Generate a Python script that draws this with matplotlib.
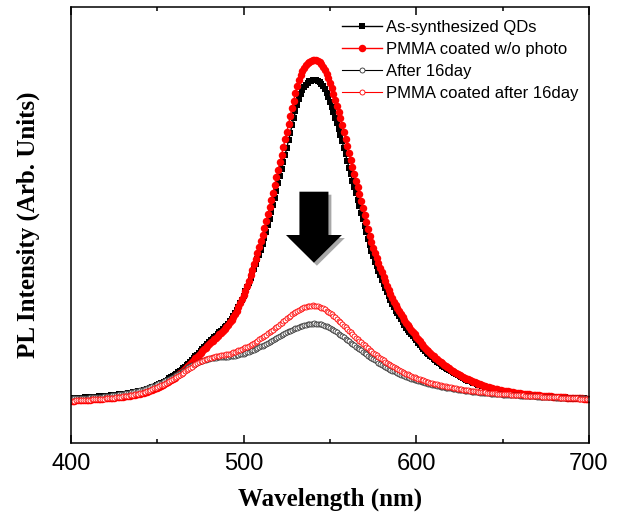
import numpy as np
import matplotlib
matplotlib.use("Agg")
import matplotlib.pyplot as plt
from matplotlib.patches import FancyArrow

plt.rcParams["font.family"] = ["Liberation Sans", "DejaVu Sans"]

# Emission wavelength grid (nm), 1 nm steps
wavelength = np.arange(400, 701)

# PL spectra (arbitrary units)
as_synthesized = [
    44.8, 44.9, 45.0, 45.1, 45.2, 45.3, 45.4, 45.5, 45.6, 45.8,
    45.9, 46.0, 46.1, 46.2, 46.4, 46.5, 46.6, 46.8, 46.9, 47.1,
    47.2, 47.4, 47.5, 47.7, 47.8, 48.0, 48.2, 48.4, 48.6, 48.8,
    49.0, 49.2, 49.5, 49.7, 50.0, 50.3, 50.6, 51.0, 51.3, 51.6,
    52.0, 52.5, 52.9, 53.4, 53.9, 54.5, 55.1, 55.7, 56.4, 57.2,
    58.0, 58.8, 59.6, 60.5, 61.5, 62.5, 63.5, 64.6, 65.7, 66.8,
    68.0, 69.3, 70.6, 72.0, 73.4, 74.8, 76.3, 77.9, 79.5, 81.2,
    83.0, 84.8, 86.6, 88.4, 90.2, 92.0, 93.8, 95.6, 97.4, 99.2,
    101.0, 102.6, 104.2, 105.8, 107.4, 109.0, 110.6, 112.2, 113.9, 115.6,
    117.4, 119.4, 121.6, 124.0, 126.7, 129.6, 132.7, 136.0, 139.6, 143.4,
    147.4, 151.6, 156.0, 160.5, 165.0, 169.6, 174.3, 179.1, 184.0, 188.4,
    192.9, 198.8, 204.9, 211.2, 217.7, 224.4, 231.3, 238.3, 245.4, 252.5,
    259.7, 266.8, 274.0, 281.1, 288.3, 295.4, 302.8, 310.3, 317.8, 324.9,
    331.9, 338.5, 344.2, 348.9, 352.6, 355.9, 358.3, 360.2, 361.6, 362.5,
    363.0, 363.2, 363.0, 362.2, 360.9, 359.0, 356.6, 353.6, 350.0, 345.9,
    341.4, 336.5, 331.2, 325.5, 319.7, 314.1, 308.4, 301.8, 295.2, 288.7,
    282.1, 275.5, 268.9, 262.3, 255.7, 249.6, 243.5, 236.9, 230.3, 223.7,
    217.1, 210.6, 204.0, 197.9, 191.7, 186.6, 181.4, 176.7, 172.0, 167.7,
    163.5, 159.3, 155.0, 150.8, 146.6, 142.8, 139.0, 135.7, 132.5, 129.6,
    126.8, 124.0, 121.2, 118.3, 115.5, 113.4, 111.4, 109.3, 107.1, 104.9,
    102.6, 100.4, 98.2, 96.1, 94.2, 92.3, 90.5, 88.8, 87.2, 85.7,
    84.2, 82.8, 81.4, 80.0, 78.7, 77.5, 76.3, 75.1, 73.9, 72.8,
    71.7, 70.6, 69.6, 68.6, 67.6, 66.7, 65.7, 64.9, 64.0, 63.2,
    62.4, 61.7, 60.9, 60.3, 59.6, 59.0, 58.3, 57.7, 57.2, 56.6,
    56.0, 55.6, 55.1, 54.6, 54.2, 53.8, 53.4, 53.0, 52.7, 52.3,
    52.0, 51.7, 51.4, 51.2, 50.9, 50.6, 50.3, 50.0, 49.8, 49.6,
    49.4, 49.2, 49.0, 48.8, 48.6, 48.4, 48.2, 48.0, 47.9, 47.7,
    47.6, 47.4, 47.3, 47.1, 47.0, 46.9, 46.7, 46.6, 46.5, 46.4,
    46.3, 46.2, 46.0, 45.9, 45.8, 45.7, 45.6, 45.5, 45.4, 45.3,
    45.2, 45.1, 45.0, 44.9, 44.8, 44.8, 44.7, 44.6, 44.5, 44.5, 44.4,
]

pmma_coated = [
    42.3, 42.4, 42.5, 42.6, 42.7, 42.8, 42.9, 43.0, 43.1, 43.3,
    43.4, 43.5, 43.6, 43.7, 43.9, 44.0, 44.1, 44.3, 44.4, 44.6,
    44.7, 44.9, 45.0, 45.2, 45.3, 45.5, 45.7, 45.9, 46.1, 46.3,
    46.5, 46.7, 47.0, 47.2, 47.5, 47.8, 48.1, 48.5, 48.8, 49.1,
    49.5, 50.0, 50.4, 50.9, 51.4, 52.0, 52.6, 53.2, 53.9, 54.7,
    55.5, 56.3, 57.1, 58.0, 59.0, 60.0, 61.0, 62.1, 63.2, 64.3,
    65.5, 66.8, 68.2, 69.6, 71.0, 72.5, 74.0, 75.6, 77.3, 79.1,
    81.0, 82.8, 84.6, 86.4, 88.2, 90.0, 91.8, 93.6, 95.4, 97.2,
    99.0, 100.7, 102.3, 103.9, 105.5, 107.1, 108.7, 110.4, 112.1, 114.0,
    116.0, 118.3, 120.8, 123.5, 126.3, 129.3, 132.5, 136.0, 139.8, 143.8,
    148.0, 152.5, 157.3, 162.5, 168.0, 173.5, 179.0, 184.5, 190.2, 196.1,
    202.2, 208.5, 215.0, 221.7, 228.6, 235.7, 243.0, 250.5, 258.0, 265.6,
    273.2, 280.8, 288.4, 296.0, 303.6, 311.2, 319.0, 327.0, 335.0, 342.5,
    350.0, 357.0, 363.0, 368.0, 372.0, 375.5, 378.0, 380.0, 381.5, 382.5,
    383.0, 383.2, 383.0, 382.2, 380.8, 378.8, 376.2, 373.0, 369.2, 364.8,
    360.0, 354.8, 349.2, 343.2, 337.0, 331.0, 325.0, 318.0, 311.0, 304.0,
    297.0, 290.0, 283.0, 276.0, 269.0, 262.5, 256.0, 249.0, 242.0, 235.0,
    228.0, 221.0, 214.0, 207.5, 201.0, 195.5, 190.0, 185.0, 180.0, 175.5,
    171.0, 166.5, 162.0, 157.5, 153.0, 149.0, 145.0, 141.5, 138.0, 135.0,
    132.0, 129.0, 126.0, 123.0, 120.0, 117.8, 115.6, 113.4, 111.1, 108.7,
    106.3, 103.9, 101.6, 99.4, 97.3, 95.3, 93.4, 91.6, 89.9, 88.3,
    86.7, 85.2, 83.7, 82.3, 80.9, 79.6, 78.3, 77.0, 75.8, 74.6,
    73.4, 72.3, 71.2, 70.1, 69.1, 68.1, 67.1, 66.2, 65.3, 64.4,
    63.6, 62.8, 62.0, 61.3, 60.6, 59.9, 59.2, 58.6, 58.0, 57.4,
    56.8, 56.3, 55.8, 55.3, 54.8, 54.4, 54.0, 53.6, 53.2, 52.8,
    52.5, 52.2, 51.9, 51.6, 51.3, 51.0, 50.7, 50.4, 50.2, 49.9,
    49.7, 49.5, 49.3, 49.1, 48.9, 48.7, 48.5, 48.3, 48.1, 48.0,
    47.8, 47.6, 47.5, 47.3, 47.2, 47.0, 46.9, 46.7, 46.6, 46.5,
    46.3, 46.2, 46.1, 46.0, 45.8, 45.7, 45.6, 45.5, 45.4, 45.3,
    45.2, 45.1, 45.0, 44.9, 44.8, 44.7, 44.6, 44.5, 44.4, 44.3, 44.2,
]

after_16day = [
    44.5, 44.6, 44.7, 44.8, 44.9, 45.0, 45.1, 45.2, 45.3, 45.4,
    45.5, 45.6, 45.7, 45.8, 45.9, 46.0, 46.2, 46.3, 46.5, 46.6,
    46.8, 47.0, 47.2, 47.4, 47.6, 47.8, 48.1, 48.4, 48.7, 49.0,
    49.3, 49.6, 49.9, 50.2, 50.5, 50.8, 51.2, 51.6, 52.0, 52.4,
    52.9, 53.4, 53.9, 54.4, 55.0, 55.6, 56.2, 56.8, 57.5, 58.2,
    58.9, 59.6, 60.3, 61.0, 61.8, 62.6, 63.5, 64.4, 65.3, 66.2,
    67.1, 68.1, 69.1, 70.2, 71.3, 72.4, 73.5, 74.6, 75.6, 76.6,
    77.6, 78.5, 79.4, 80.2, 81.0, 81.7, 82.3, 82.9, 83.4, 83.9,
    84.3, 84.7, 85.0, 85.3, 85.5, 85.7, 85.9, 86.0, 86.1, 86.2,
    86.3, 86.4, 86.6, 86.8, 87.1, 87.4, 87.8, 88.2, 88.6, 89.0,
    89.5, 90.0, 90.6, 91.2, 91.9, 92.6, 93.3, 94.1, 94.9, 95.7,
    96.6, 97.5, 98.4, 99.3, 100.2, 101.2, 102.2, 103.2, 104.2, 105.2,
    106.2, 107.2, 108.1, 109.0, 109.9, 110.8, 111.6, 112.4, 113.2, 114.0,
    114.7, 115.4, 116.1, 116.7, 117.3, 117.8, 118.3, 118.7, 119.0, 119.3,
    119.5, 119.6, 119.5, 119.3, 119.0, 118.6, 118.1, 117.5, 116.8, 116.0,
    115.1, 114.1, 113.0, 111.9, 110.7, 109.5, 108.2, 106.9, 105.6, 104.3,
    103.0, 101.7, 100.4, 99.1, 97.8, 96.5, 95.2, 93.9, 92.6, 91.3,
    90.0, 88.7, 87.5, 86.3, 85.1, 83.9, 82.7, 81.6, 80.5, 79.4,
    78.3, 77.3, 76.3, 75.3, 74.3, 73.4, 72.5, 71.6, 70.8, 70.0,
    69.2, 68.4, 67.7, 67.0, 66.3, 65.6, 65.0, 64.4, 63.8, 63.2,
    62.6, 62.1, 61.6, 61.1, 60.6, 60.1, 59.6, 59.2, 58.8, 58.4,
    58.0, 57.6, 57.2, 56.8, 56.4, 56.1, 55.8, 55.5, 55.2, 54.9,
    54.6, 54.3, 54.0, 53.7, 53.4, 53.1, 52.9, 52.6, 52.4, 52.1,
    51.9, 51.7, 51.5, 51.3, 51.1, 50.9, 50.7, 50.5, 50.3, 50.1,
    49.9, 49.8, 49.6, 49.5, 49.3, 49.2, 49.0, 48.9, 48.8, 48.6,
    48.5, 48.4, 48.3, 48.2, 48.1, 48.0, 47.9, 47.8, 47.7, 47.6,
    47.5, 47.4, 47.3, 47.2, 47.1, 47.0, 46.9, 46.8, 46.7, 46.6,
    46.5, 46.4, 46.3, 46.2, 46.1, 46.0, 45.9, 45.8, 45.8, 45.7,
    45.6, 45.5, 45.5, 45.4, 45.3, 45.3, 45.2, 45.1, 45.1, 45.0,
    45.0, 44.9, 44.9, 44.8, 44.8, 44.7, 44.7, 44.6, 44.6, 44.5, 44.5,
]

pmma_after_16day = [
    42.3, 42.4, 42.5, 42.6, 42.7, 42.8, 42.9, 43.0, 43.1, 43.2,
    43.3, 43.4, 43.6, 43.7, 43.8, 43.9, 44.1, 44.2, 44.3, 44.5,
    44.6, 44.7, 44.9, 45.0, 45.2, 45.4, 45.6, 45.8, 46.1, 46.4,
    46.6, 46.8, 47.0, 47.3, 47.6, 47.9, 48.2, 48.6, 49.0, 49.4,
    49.8, 50.3, 50.8, 51.3, 51.9, 52.5, 53.2, 53.9, 54.6, 55.3,
    56.0, 56.8, 57.6, 58.4, 59.2, 60.0, 60.9, 61.8, 62.8, 63.8,
    64.8, 65.9, 67.0, 68.1, 69.3, 70.5, 71.7, 72.9, 74.1, 75.3,
    76.5, 77.6, 78.7, 79.8, 80.8, 81.7, 82.5, 83.2, 83.8, 84.3,
    84.8, 85.3, 85.8, 86.2, 86.6, 87.0, 87.4, 87.7, 88.0, 88.3,
    88.6, 89.0, 89.5, 90.1, 90.7, 91.3, 92.0, 92.7, 93.4, 94.1,
    94.8, 95.6, 96.5, 97.4, 98.4, 99.4, 100.4, 101.4, 102.5, 103.6,
    104.7, 105.9, 107.1, 108.3, 109.6, 110.9, 112.2, 113.5, 114.8, 116.1,
    117.4, 118.8, 120.2, 121.7, 123.2, 124.7, 126.1, 127.5, 128.8, 130.0,
    131.2, 132.3, 133.3, 134.2, 135.0, 135.7, 136.3, 136.8, 137.2, 137.5,
    137.6, 137.5, 137.2, 136.8, 136.2, 135.5, 134.6, 133.6, 132.5, 131.3,
    130.0, 128.6, 127.1, 125.6, 124.0, 122.4, 120.8, 119.1, 117.4, 115.7,
    114.0, 112.3, 110.6, 108.9, 107.2, 105.5, 103.9, 102.3, 100.7, 99.1,
    97.6, 96.1, 94.6, 93.2, 91.8, 90.4, 89.0, 87.7, 86.4, 85.1,
    83.8, 82.6, 81.4, 80.2, 79.1, 78.0, 76.9, 75.9, 74.9, 73.9,
    73.0, 72.1, 71.2, 70.3, 69.5, 68.7, 67.9, 67.2, 66.5, 65.8,
    65.1, 64.4, 63.8, 63.2, 62.6, 62.0, 61.5, 61.0, 60.5, 60.0,
    59.5, 59.0, 58.6, 58.2, 57.8, 57.4, 57.0, 56.6, 56.2, 55.9,
    55.6, 55.3, 55.0, 54.7, 54.4, 54.1, 53.8, 53.5, 53.2, 53.0,
    52.8, 52.5, 52.3, 52.1, 51.9, 51.7, 51.5, 51.3, 51.1, 50.9,
    50.7, 50.5, 50.3, 50.2, 50.0, 49.8, 49.7, 49.5, 49.4, 49.2,
    49.1, 49.0, 48.8, 48.7, 48.6, 48.5, 48.3, 48.2, 48.1, 48.0,
    47.9, 47.8, 47.6, 47.5, 47.4, 47.3, 47.2, 47.1, 47.0, 46.9,
    46.8, 46.7, 46.6, 46.5, 46.4, 46.3, 46.2, 46.1, 46.0, 45.9,
    45.8, 45.7, 45.6, 45.5, 45.4, 45.3, 45.2, 45.1, 45.0, 44.9,
    44.8, 44.8, 44.7, 44.6, 44.5, 44.5, 44.4, 44.3, 44.2, 44.1, 44.0,
]

series_labels = [
    "As-synthesized QDs",
    "PMMA coated w/o photo",
    "After 16day",
    "PMMA coated after 16day",
]
major_ticks = [400, 500, 600, 700]
minor_ticks = [450, 550, 650]

fig = plt.figure(figsize=(6.19, 5.2), dpi=100)
ax = fig.add_axes([71 / 619, 77 / 520, 518 / 619, 436 / 520])

ax.plot(wavelength, as_synthesized, color="black", lw=1.0, marker="s",
        ms=4.5, mew=0, label=series_labels[0])
ax.plot(wavelength, pmma_coated, color="red", lw=1.0, marker="o",
        ms=5.4, mew=0, label=series_labels[1])
ax.plot(wavelength, after_16day, color="black", lw=0.8, marker="o",
        ms=3.6, mfc="white", mec="#303030", mew=0.6, label=series_labels[2])
ax.plot(wavelength, pmma_after_16day, color="red", lw=0.8, marker="o",
        ms=3.6, mfc="white", mec="red", mew=0.6, label=series_labels[3])

# Downward block arrow with a soft drop shadow
arrow_kw = dict(width=16.8, head_width=32.4, head_length=27.7,
                length_includes_head=True, lw=0, zorder=6)
ax.add_patch(FancyArrow(542.4, 248.3, 0, -71, color="#a8a8a8", **arrow_kw))
ax.add_patch(FancyArrow(540.7, 251.3, 0, -71, color="black", **arrow_kw))

ax.set_xlim(400, 700)
ax.set_ylim(0, 436)
ax.set_xticks(major_ticks)
ax.set_xticks(minor_ticks, minor=True)
ax.set_yticks([])
ax.tick_params(axis="x", which="both", direction="in", top=True, bottom=True,
               width=1.1, labelsize=17, pad=7)
ax.tick_params(axis="x", which="major", length=6)
ax.tick_params(axis="x", which="minor", length=3.2)
for spine in ax.spines.values():
    spine.set_linewidth(1.1)

ax.set_xlabel("Wavelength (nm)", family=["Liberation Serif", "DejaVu Serif"],
              fontweight="bold", fontsize=18, labelpad=9.5)
ax.set_ylabel("PL Intensity (Arb. Units)", family=["Liberation Serif", "DejaVu Serif"],
              fontweight="bold", fontsize=18, labelpad=22)

ax.legend(loc="upper left", bbox_to_anchor=(342 / 619, 1 - 20 / 520),
          bbox_transform=fig.transFigure, frameon=False, fontsize=12,
          handlelength=2.4, handletextpad=0.25, labelspacing=0.42,
          borderpad=0, borderaxespad=0, numpoints=1)

fig.savefig("out.png", dpi=100)
